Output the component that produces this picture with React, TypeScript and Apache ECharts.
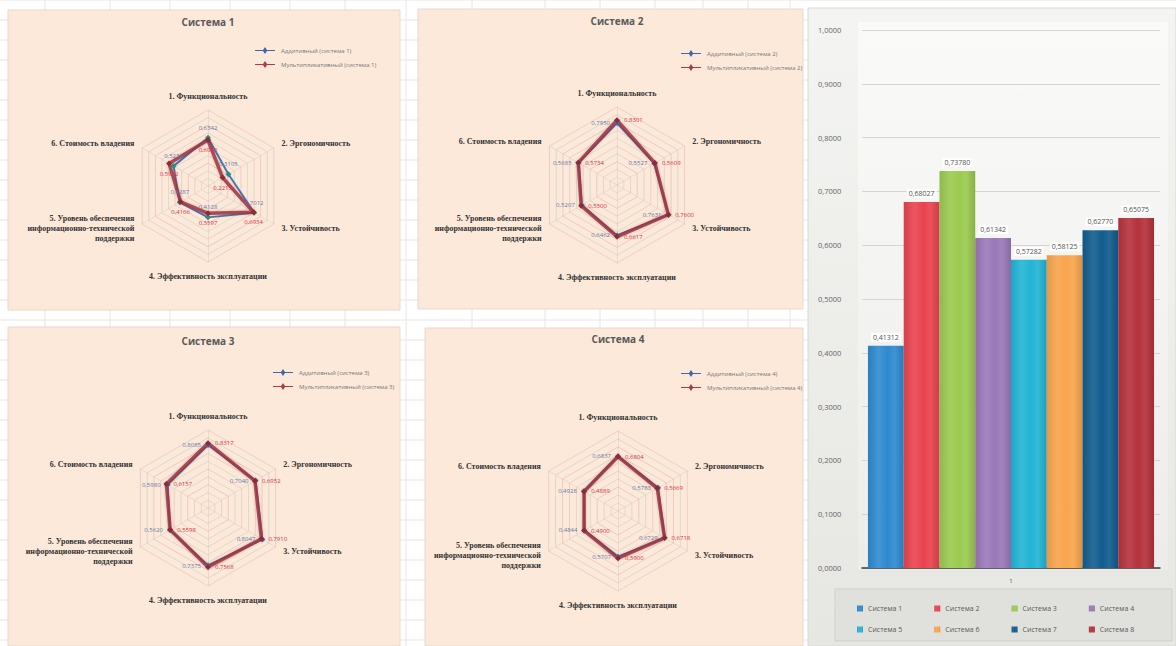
import React, { useEffect, useRef } from "react";
import * as echarts from "echarts";

// ---------- data ----------
const indicatorNames = [
  "1. Функциональность",
  "2. Эргономичность",
  "3. Устойчивость",
  "4. Эффективность эксплуатации",
  "5. Уровень обеспечения\nинформационно-технической\nподдержки",
  "6. Стоимость владения",
];

const systemTitles = ["Система 1", "Система 2", "Система 3", "Система 4"];

const additive1 = [0.6342, 0.3105, 0.7012, 0.4128, 0.4287, 0.5236];
const multiplicative1 = [0.604, 0.2215, 0.6934, 0.3597, 0.4166, 0.5902];

const additive2 = [0.795, 0.5527, 0.7631, 0.6462, 0.5207, 0.5685];
const multiplicative2 = [0.8301, 0.5609, 0.76, 0.6617, 0.53, 0.5734];

const additive3 = [0.8085, 0.704, 0.8047, 0.7375, 0.562, 0.598];
const multiplicative3 = [0.8317, 0.6952, 0.791, 0.7568, 0.5598, 0.6157];

const additive4 = [0.6837, 0.5783, 0.6729, 0.5707, 0.4844, 0.4928];
const multiplicative4 = [0.6804, 0.5669, 0.6718, 0.59, 0.49, 0.4889];

const barCategories = ["1"];
const barNames = [
  "Система 1",
  "Система 2",
  "Система 3",
  "Система 4",
  "Система 5",
  "Система 6",
  "Система 7",
  "Система 8",
];
const barValues = [0.41312, 0.68027, 0.7378, 0.61342, 0.57282, 0.58125, 0.6277, 0.65075];

// ---------- styling / layout ----------
const barColors = ["#2f8ad0", "#e9434f", "#9bca4f", "#9a78b8", "#22b4d5", "#f8a54c", "#125c8e", "#b5323c"];
const radarCenters = [
  [208, 186],
  [617, 185],
  [208, 508],
  [618, 511],
];
const radarRadii = [76, 78, 78, 80];
const legendPos = [
  [250, 42],
  [676, 45],
  [268, 364],
  [676, 365],
];
const titlePos = [
  [208, 22],
  [617, 21],
  [208, 341],
  [618, 339],
];
const blueLabelPos = ["top", "left", "left", "left"];
const redLabelPos = ["bottom", "right", "right", "right"];
// ECharts radar goes counter-clockwise; reorder so axis 2 is upper-right
const order = [0, 5, 4, 3, 2, 1];

const fmt4 = (v: number) => v.toFixed(4).replace(".", ",");
const fmt5 = (v: number) => v.toFixed(5).replace(".", ",");

const lineIcon = "path://M0,4 L8,4 L10,1 L12,4 L20,4 L20,5 L12,5 L10,8 L8,5 L0,5 Z";

function lighten(hex: string, amt: number) {
  const n = parseInt(hex.slice(1), 16);
  let r = (n >> 16) & 255,
    g = (n >> 8) & 255,
    b = n & 255;
  r = Math.round(r + (255 - r) * amt);
  g = Math.round(g + (255 - g) * amt);
  b = Math.round(b + (255 - b) * amt);
  return `rgb(${r},${g},${b})`;
}
function darken(hex: string, amt: number) {
  const n = parseInt(hex.slice(1), 16);
  const r = Math.round(((n >> 16) & 255) * (1 - amt));
  const g = Math.round(((n >> 8) & 255) * (1 - amt));
  const b = Math.round((n & 255) * (1 - amt));
  return `rgb(${r},${g},${b})`;
}

export default function App() {
  const ref = useRef<HTMLDivElement>(null);

  useEffect(() => {
    if (!ref.current) return;
    const chart = echarts.init(ref.current, null, { renderer: "svg" });

    const radarData = [
      [additive1, multiplicative1],
      [additive2, multiplicative2],
      [additive3, multiplicative3],
      [additive4, multiplicative4],
    ];

    const graphics: any[] = [];
    // spreadsheet background grid
    for (let y = 0; y <= 646; y += 20) {
      graphics.push({
        type: "line",
        z: -200,
        shape: { x1: 0, y1: y, x2: 1176, y2: y },
        style: { stroke: "#e6e6e6", lineWidth: 1 },
      });
    }
    [45, 110, 170, 230, 290, 345, 406, 472, 545, 600, 655, 703, 748, 790].forEach((x) =>
      graphics.push({
        type: "line",
        z: -200,
        shape: { x1: x, y1: 0, x2: x, y2: 646 },
        style: { stroke: "#e6e6e6", lineWidth: 1 },
      })
    );
    // panels
    const panels = [
      [8, 10, 392, 300],
      [418, 9, 385, 300],
      [8, 327, 392, 319],
      [425, 328, 378, 318],
    ];
    panels.forEach(([x, y, w, h]) =>
      graphics.push({
        type: "rect",
        z: -100,
        shape: { x, y, width: w, height: h },
        style: { fill: "#fce9da", stroke: "#ead8cb", lineWidth: 1 },
      })
    );
    // bar panel
    graphics.push({
      type: "rect",
      z: -100,
      shape: { x: 808, y: 8, width: 368, height: 638 },
      style: {
        fill: new echarts.graphic.LinearGradient(0, 0, 0, 1, [
          { offset: 0, color: "#f4f4f2" },
          { offset: 1, color: "#e6e6e2" },
        ]),
        stroke: "#d8d8d4",
        lineWidth: 1,
      },
    });
    graphics.push({
      type: "rect",
      z: -90,
      shape: { x: 858, y: 22, width: 310, height: 548 },
      style: {
        fill: new echarts.graphic.LinearGradient(0, 0, 0, 1, [
          { offset: 0, color: "#fafaf8" },
          { offset: 1, color: "#ececea" },
        ]),
      },
    });
    graphics.push({
      type: "rect",
      z: -90,
      shape: { x: 835, y: 589, width: 337, height: 52 },
      style: { fill: "#e0e0dc", stroke: "#d0d0cb", lineWidth: 1 },
    });
    // titles
    systemTitles.forEach((t, i) =>
      graphics.push({
        type: "text",
        z: 100,
        x: titlePos[i][0],
        y: titlePos[i][1],
        style: {
          text: t,
          align: "center",
          verticalAlign: "middle",
          font: 'bold 10px "Open Sans"',
          fill: "#5a5a5a",
        },
      })
    );

    const radars = radarCenters.map((c, i) => ({
      center: c,
      radius: radarRadii[i],
      startAngle: 90,
      shape: "polygon",
      splitNumber: 10,
      nameGap: 9,
      indicator: order.map((k) => ({ name: indicatorNames[k], min: 0, max: 1 })),
      axisName: {
        color: "#333",
        fontSize: 8,
        fontFamily: "Liberation Serif",
        fontWeight: "bold",
        lineHeight: 10,
      },
      splitLine: {
        lineStyle: {
          color: ["#e2c4bd", "#cfd9c0", "#dcc8c2", "#e0bdb6", "#c9d3c6"],
          width: 0.7,
        },
      },
      splitArea: { show: false },
      axisLine: { lineStyle: { color: "#dcc7bf", width: 0.5 } },
      axisTick: { show: false },
      axisLabel: { show: false },
    }));

    const labelFormatter = (p: any) => {
      const v = Array.isArray(p.value) ? p.value[p.dimensionIndex] : p.value;
      return fmt4(Number(v));
    };

    const radarSeries = radarData.map((pair, i) => {
      const n = i + 1;
      return {
        type: "radar",
        radarIndex: i,
        symbol: "diamond",
        symbolSize: 6,
        z: 3,
        data: [
          {
            name: `Аддитивный (система ${n})`,
            value: order.map((k) => pair[0][k]),
            lineStyle: { color: "#4a76b2", width: 2 },
            itemStyle: { color: i === 0 ? "#2a8c82" : "#3f6aa6" },
            label: {
              show: true,
              position: blueLabelPos[i],
              distance: 4,
              fontSize: 6,
              color: "#6a78a8",
              formatter: labelFormatter,
            },
          },
          {
            name: `Мультипликативный (система ${n})`,
            value: order.map((k) => pair[1][k]),
            lineStyle: {
              color: "rgba(160,52,66,0.85)",
              width: 3.5,
              shadowColor: "rgba(120,40,50,0.35)",
              shadowBlur: 3,
            },
            itemStyle: { color: "#8e2a36" },
            label: {
              show: true,
              position: redLabelPos[i],
              distance: 4,
              fontSize: 6,
              color: "#e0303a",
              formatter: labelFormatter,
            },
          },
        ],
      };
    });

    const radarLegends = radarData.map((_, i) => {
      const n = i + 1;
      return {
        left: legendPos[i][0],
        top: legendPos[i][1],
        orient: "vertical",
        itemGap: 7,
        itemWidth: 22,
        itemHeight: 7,
        textStyle: { fontSize: 6, color: "#777" },
        data: [
          { name: `Аддитивный (система ${n})`, icon: lineIcon, itemStyle: { color: "#3f6aa6" } },
          { name: `Мультипликативный (система ${n})`, icon: lineIcon, itemStyle: { color: "#b03a48" } },
        ],
      };
    });

    const barSeries = barNames.map((name, i) => ({
      type: "bar",
      name,
      xAxisIndex: 0,
      yAxisIndex: 0,
      barGap: "0%",
      barCategoryGap: "4%",
      data: [barValues[i]],
      itemStyle: {
        color: new echarts.graphic.LinearGradient(1, 0, 0, 0, [
          { offset: 0, color: darken(barColors[i], 0.12) },
          { offset: 0.25, color: lighten(barColors[i], 0.08) },
          { offset: 0.45, color: barColors[i] },
          { offset: 0.7, color: lighten(barColors[i], 0.1) },
          { offset: 1, color: darken(barColors[i], 0.08) },
        ]),
      },
      label: {
        show: true,
        position: "top",
        distance: 4,
        fontSize: 7,
        color: "#555",
        backgroundColor: "rgba(255,255,255,0.85)",
        padding: [1, 2],
        formatter: (p: any) => fmt5(Number(p.value)),
      },
    }));

    const barLegendBase = {
      left: 852,
      itemGap: 32,
      itemWidth: 6,
      itemHeight: 6,
      icon: "rect",
      textStyle: { fontSize: 7, color: "#5a5a5a" },
    };

    const option: any = {
      animation: false,
      backgroundColor: "#ffffff",
      textStyle: { fontFamily: "Open Sans" },
      graphic: { elements: graphics },
      radar: radars,
      legend: [
        ...radarLegends,
        { ...barLegendBase, top: 600, data: barNames.slice(0, 4) },
        { ...barLegendBase, top: 621, data: barNames.slice(4) },
      ],
      grid: [{ left: 862, right: 16, top: 30, bottom: 78 }],
      xAxis: [
        {
          type: "category",
          gridIndex: 0,
          data: barCategories,
          axisLine: { lineStyle: { color: "#3a3a3a", width: 1.5 } },
          axisTick: { show: false },
          axisLabel: { fontSize: 6, color: "#555", margin: 10 },
        },
      ],
      yAxis: [
        {
          type: "value",
          gridIndex: 0,
          min: 0,
          max: 1,
          interval: 0.1,
          axisLine: { show: false },
          axisTick: { show: false },
          axisLabel: {
            fontSize: 7.5,
            color: "#666",
            margin: 44,
            align: "left",
            formatter: (v: number) => fmt4(v),
          },
          splitLine: { lineStyle: { color: "#d4d4d0", width: 1 } },
        },
      ],
      series: [...radarSeries, ...barSeries],
    };

    chart.setOption(option);
    return () => chart.dispose();
  }, []);

  return (
    <div
      ref={ref}
      style={{ position: "fixed", left: 0, top: 0, width: 1176, height: 646 }}
    />
  );
}
